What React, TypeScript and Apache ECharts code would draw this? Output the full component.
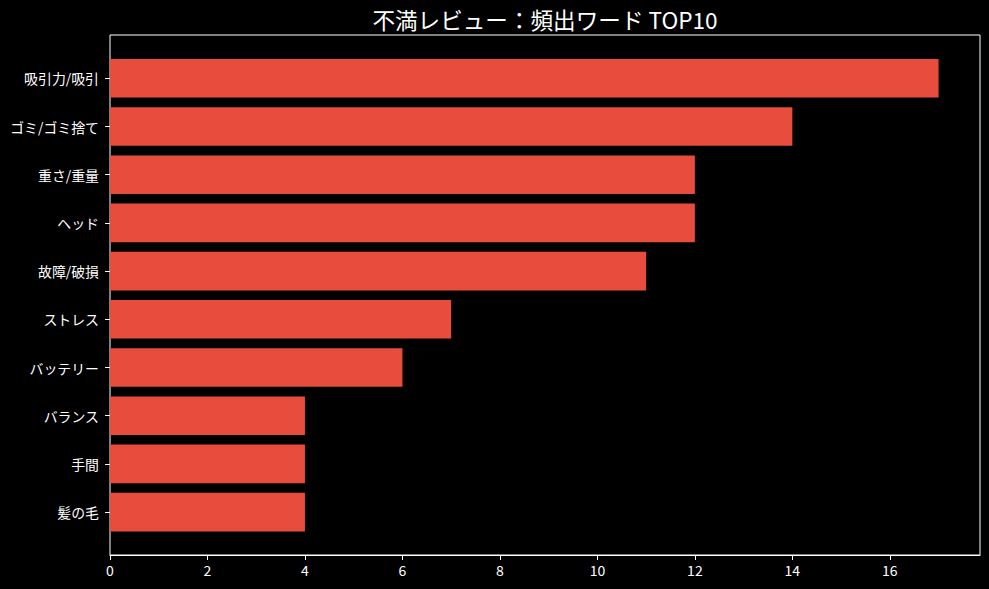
import React, { useEffect, useRef } from "react";
import * as echarts from "echarts";

const categories = ["吸引力/吸引", "ゴミ/ゴミ捨て", "重さ/重量", "ヘッド", "故障/破損", "ストレス", "バッテリー", "バランス", "手間", "髪の毛"];
const counts = [17, 14, 12, 12, 11, 7, 6, 4, 4, 4];
const xTicks = [0, 2, 4, 6, 8, 10, 12, 14, 16];
const titleText = "不満レビュー：頻出ワード TOP10";

const FONT = "'Noto Sans CJK JP', 'Noto Sans', sans-serif";

export default function App() {
  const ref = useRef<HTMLDivElement>(null);
  useEffect(() => {
    document.body.style.margin = "0";
    document.body.style.background = "#000";
    const chart = echarts.init(ref.current!, null, { renderer: "svg" });
    const xMax = 17.85;
    chart.setOption({
      animation: false,
      backgroundColor: "#000",
      textStyle: { fontFamily: FONT },
      title: {
        text: titleText,
        left: 540,
        top: 3,
        textAlign: "center",
        textStyle: { color: "#fff", fontSize: 22.6, fontWeight: "normal", fontFamily: FONT },
      },
      grid: [
        { left: 110, top: 35, width: 870, height: 520, show: true, borderColor: "#ffffff", borderWidth: 1, backgroundColor: "transparent" },
        { left: 110, top: 54.2, width: 870, height: 482 },
      ],
      xAxis: [
        {
          type: "value",
          gridIndex: 0,
          min: 0,
          max: xMax,
          interval: 2,
          axisLine: { show: true, lineStyle: { color: "#fff", width: 1 } },
          axisTick: { show: true, length: 5, lineStyle: { color: "#fff" }, customValues: xTicks },
          axisLabel: {
            color: "#fff",
            fontSize: 14,
            margin: 8,
            fontFamily: FONT,
            showMaxLabel: false,
            formatter: (v: number) => (xTicks.indexOf(v) >= 0 ? String(v) : ""),
          },
          splitLine: { show: false },
        },
        { type: "value", gridIndex: 1, min: 0, max: xMax, show: false },
      ],
      yAxis: [
        { type: "value", gridIndex: 0, min: 0, max: 1, show: false },
        {
          type: "category",
          gridIndex: 1,
          inverse: true,
          data: categories,
          axisLine: { show: false },
          axisTick: { show: true, length: 5, alignWithLabel: true, lineStyle: { color: "#fff" } },
          axisLabel: { color: "#fff", fontSize: 13.9, margin: 11, fontFamily: FONT },
          splitLine: { show: false },
        },
      ],
      series: [
        {
          type: "bar",
          xAxisIndex: 1,
          yAxisIndex: 1,
          data: counts,
          barWidth: 38.6,
          itemStyle: { color: "#e74c3c" },
        },
      ],
    });
    return () => chart.dispose();
  }, []);
  return <div ref={ref} style={{ width: 989, height: 589, position: "absolute", left: 0, top: 0 }} />;
}
